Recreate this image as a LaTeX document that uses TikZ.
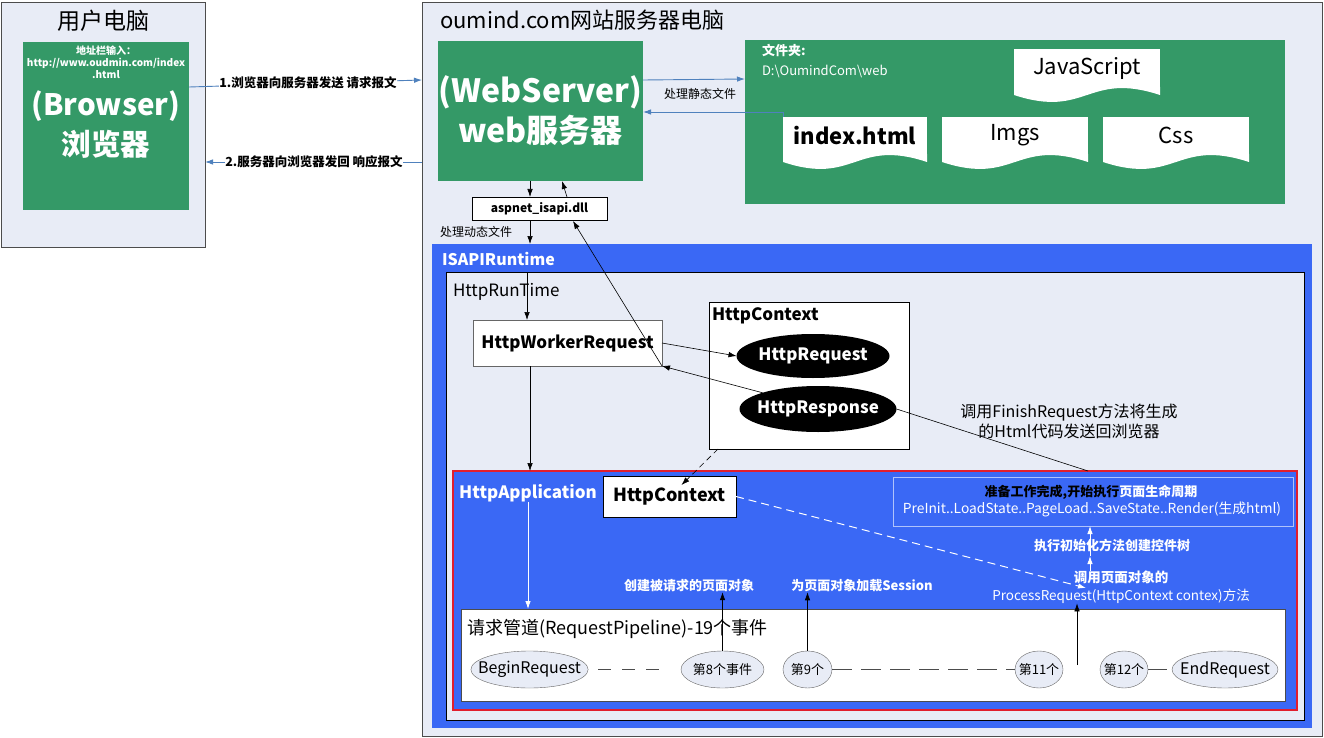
\documentclass[tikz,border=0pt]{standalone}
\usepackage{fontspec}
\setmainfont{Noto Sans CJK SC}
\usepackage{tikz}
\usetikzlibrary{arrows.meta,calc,shapes.geometric}
\usepackage{xcolor}
\definecolor{pcbg}{RGB}{232,236,246}
\definecolor{srvgreen}{RGB}{52,153,103}
\definecolor{rtblue}{RGB}{58,104,245}
\definecolor{appred}{RGB}{225,30,45}
\definecolor{linkblue}{RGB}{79,129,189}
\newcommand{\fsz}[2]{\fontsize{#1}{#2}\selectfont}
% wavy bottom under a file node
\newcommand{\docwave}[1]{\fill[white] (#1.south west) -- ($(#1.south west)+(0,8)$) .. controls ($(#1.south west)!0.5!(#1.south east)+(0,32)$) and ($(#1.south west)!0.5!(#1.south east)+(0,-16)$) .. ($(#1.south east)+(0,8)$) -- (#1.south east) -- cycle;}

\begin{document}
\begin{tikzpicture}[x=1pt,y=-1pt,>={Latex[length=8pt,width=5.5pt]},every node/.style={inner sep=0pt,outer sep=0pt,align=center},pcbox/.style={draw=black!70,fill=pcbg,line width=0.9pt},greenbox/.style={fill=srvgreen,text=white,font=\bfseries},filedoc/.style={fill=white,font=\fsz{22}{26}},plainbox/.style={draw,fill=white},blackoval/.style={ellipse,inner xsep=-6pt,fill=black,text=white,font=\bfseries\fsz{17}{20}},eventoval/.style={ellipse,inner xsep=-10pt,draw=black!60,fill=pcbg},link/.style={->,draw=linkblue,line width=0.9pt},flow/.style={->,line width=0.6pt},whiteflow/.style={->,draw=white,line width=0.8pt}]
\fill[white] (0,0) rectangle (1324,738); \useasboundingbox (0,0) rectangle (1324,738);
% user computer
\node[pcbox,minimum width=204,minimum height=245] (userpc) at (103,124.5) {}; \node[font=\fsz{23}{26}] (pctitle) at (103,21) {用户电脑};
\node[greenbox,minimum width=166,minimum height=168] (browser) at (106,126) {};
\node[text=white,font=\bfseries\fsz{10}{12}] (addr) at (106,62) {地址栏输入：\\http://www.oudmin.com/index\\.html};
\node[text=white,font=\bfseries\fsz{29.5}{40}] (brtext) at (106,125) {(Browser)\\浏览器};
% server computer
\node[pcbox,minimum width=900,minimum height=734] (server) at (872,369) {}; \node[anchor=west,font=\fsz{22}{26}] (srvtitle) at (440,20) {oumind.com网站服务器电脑};
\node[greenbox,font=\bfseries\fsz{32}{40},minimum width=205,minimum height=140] (web) at (540.5,111) {(WebServer)\\web服务器};
\node[greenbox,minimum width=540,minimum height=164] (folder) at (1015,122) {};
\node[anchor=north west,text=white,align=left,font=\fsz{13}{20}] (folderlbl) at (762,44) {\textbf{文件夹:}\\D:\textbackslash OumindCom\textbackslash web};
\node[filedoc,minimum width=146,minimum height=38] (jsdoc) at (1087,68) {JavaScript}; \docwave{jsdoc}
\node[filedoc,font=\bfseries\fsz{22}{26},minimum width=144,minimum height=37] (idxdoc) at (855,135.5) {index.html}; \docwave{idxdoc}
\node[filedoc,minimum width=146,minimum height=37] (imgdoc) at (1015,135.5) {Imgs}; \docwave{imgdoc}
\node[filedoc,minimum width=146,minimum height=37] (cssdoc) at (1176,135.5) {Css}; \docwave{cssdoc}
\node[plainbox,font=\bfseries\fsz{12}{14},minimum width=135,minimum height=23] (dll) at (539.5,208.5) {aspnet\_isapi.dll};
% runtime
\node[fill=rtblue,minimum width=880,minimum height=484] (isapi) at (872,486) {}; \node[anchor=west,text=white,font=\bfseries\fsz{16}{18}] (isapilbl) at (442,259) {ISAPIRuntime};
\node[draw,fill=pcbg,minimum width=858,minimum height=448] (runtime) at (875,496) {}; \node[anchor=west,font=\fsz{17}{20}] (runtimelbl) at (453,292) {HttpRunTime};
\node[draw=black!60,fill=white,font=\bfseries\fsz{17}{20},minimum width=189,minimum height=46] (worker) at (567.5,343) {HttpWorkerRequest};
\node[draw,fill=white,minimum width=200,minimum height=147] (ctxbig) at (809,375.5) {}; \node[anchor=west,font=\bfseries\fsz{17}{20}] (ctxlbl) at (712,316) {HttpContext};
\node[blackoval,minimum width=153,minimum height=44] (httpreq) at (813,356) {HttpRequest};
\node[blackoval,minimum width=157,minimum height=46] (httpresp) at (818,409) {HttpResponse};
\node[font=\fsz{16}{20}] (finish) at (1069,421) {调用FinishRequest方法将生成\\的Html代码发送回浏览器};
% application
\node[draw=appred,line width=2.5pt,fill=rtblue,minimum width=844,minimum height=239] (app) at (875,590.5) {};
\node[text=white,font=\bfseries\fsz{17}{20}] (applbl) at (528,493) {HttpApplication};
\node[draw,fill=white,font=\bfseries\fsz{18}{20},minimum width=133,minimum height=41] (ctxsmall) at (669.5,496.5) {HttpContext};
\node[draw=white!60!rtblue,line width=0.8pt,fill=rtblue,minimum width=400,minimum height=49] (ready) at (1093,501.5) {};
\node[font=\bfseries\fsz{13}{16}] (readytop) at (1091,492) {准备工作完成,开始执行\textcolor{white}{页面生命周期}};
\node[text=white,font=\fsz{13.8}{16}] (readybot) at (1092,509) {PreInit..LoadState..PageLoad..SaveState..Render(生成html)};
\node[text=white,font=\bfseries\fsz{13}{16}] (exec) at (1112,546) {执行初始化方法创建控件树};
\node[text=white,font=\bfseries\fsz{13.5}{18}] (proc) at (1121,587) {调用页面对象的\\\mdseries ProcessRequest(HttpContext contex)方法};
\node[text=white,font=\bfseries\fsz{13}{16}] (create) at (689,586) {创建被请求的页面对象};
\node[text=white,font=\bfseries\fsz{13}{16}] (session) at (862,586) {为页面对象加载Session};
% pipeline
\node[draw=black!70,fill=white,minimum width=824,minimum height=92] (pipe) at (873,655) {}; \node[anchor=west,font=\fsz{18}{20}] (pipelbl) at (467,629) {请求管道(RequestPipeline)-19个事件};
\node[eventoval,font=\fsz{16}{18},minimum width=115,minimum height=37] (beginreq) at (529.5,669.5) {BeginRequest};
\node[eventoval,font=\fsz{13}{16},minimum width=83,minimum height=37] (ev8) at (722.5,669.5) {第8个事件};
\node[eventoval,font=\fsz{13}{16},minimum width=49,minimum height=37] (ev9) at (807.5,669.5) {第9个};
\node[eventoval,font=\fsz{13}{16},minimum width=48,minimum height=37] (ev11) at (1039,669.5) {第11个};
\node[eventoval,font=\fsz{13}{16},minimum width=48,minimum height=37] (ev12) at (1124,669.5) {第12个};
\node[eventoval,font=\fsz{16}{18},minimum width=106,minimum height=37] (endreq) at (1225,669.5) {EndRequest};
\coordinate (pin) at (1077,665); \coordinate (execpt) at (1090,556); \coordinate (procin) at (1086,588);
% connectors
\draw[link] ($(browser.north east)+(0,45)$) -- ($(server.north west)+(0,78)$); \node[fill=white,font=\bfseries\fsz{12.5}{15}] (reqlbl) at (308,83) {1.浏览器向服务器发送 请求报文};
\draw[link] ($(server.north west)+(0,160)$) -- ($(userpc.north east)+(0,160)$); \node[fill=white,font=\bfseries\fsz{12.5}{15}] (resplbl) at (314,162) {2.服务器向浏览器发回 响应报文};
\draw[link] ($(web.north east)+(0,39)$) -- ($(folder.north west)+(0,39)$); \node[font=\fsz{12}{14}] (staticlbl) at (700,94) {处理静态文件};
\draw[link] (idxdoc.north west) |- ($(web.north east)+(0,71)$);
\draw[flow] ($(web.south west)+(92,0)$) -- ($(dll.north west)+(58,0)$); \draw[flow] ($(dll.north west)+(95,0)$) -- ($(web.south west)+(124,0)$);
\draw[flow] ($(dll.south west)+(58,0)$) -- ($(isapi.north west)+(98,0)$); \node[font=\fsz{12}{14}] (dynlbl) at (476,232) {处理动态文件};
\draw[flow] ($(runtime.north west)+(81,0)$) -- ($(worker.north west)+(54,0)$);
\draw[flow] (worker.east) -- (httpreq.west); \draw[flow] (httpresp.north west) -- (worker.south east); \draw[flow] (worker.south east) -- ($(dll.south east)+(-34,1)$);
\draw[flow] ($(worker.south west)+(57,0)$) -- ($(app.north west)+(77,0)$);
\draw[line width=0.6pt] (httpresp.east) -- ($(app.north west)+(635,0)$);
\draw[flow,dash pattern=on 6pt off 4pt] ($(ctxbig.south west)+(9,0)$) -- ($(ctxsmall.north)+(12,9)$);
\draw[whiteflow,line width=1pt,dash pattern=on 8pt off 5pt] (ctxsmall.east) -- (procin);
\draw[whiteflow] (proc.north -| execpt) -- (execpt); \draw[whiteflow] (execpt) -- (execpt |- ready.south);
\draw[whiteflow] (applbl.south) -- (applbl.south |- pipe.north);
\draw[flow] (ev8.north) -- (ev8.north |- create.south); \draw[flow] (ev9.north) -- (ev9.north |- session.south); \draw[flow] (pin) -- (pin |- proc.south);
\draw[black!70,line width=0.8pt,dash pattern=on 13pt off 11pt,shorten <=10pt,shorten >=19pt] (beginreq.east) -- (ev8.west);
\draw[black!70,line width=0.8pt,dash pattern=on 20pt off 9pt] (ev9.east) -- (ev11.west);
\draw[black!70,line width=0.8pt,shorten >=5pt] (ev12.east) -- (endreq.west);
\end{tikzpicture}
\end{document}
